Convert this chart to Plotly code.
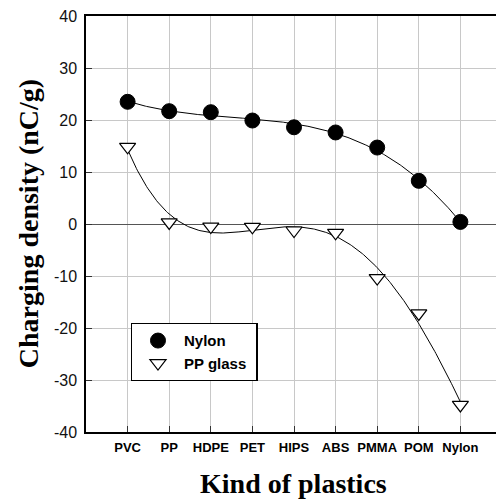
import numpy as np
import plotly.graph_objects as go

categories = ["PVC", "PP", "HDPE", "PET", "HIPS", "ABS", "PMMA", "POM", "Nylon"]
nylon_vals = [23.5, 21.7, 21.5, 19.9, 18.6, 17.6, 14.7, 8.3, 0.4]
ppglass_vals = [14.85, 0.3, -0.5, -0.55, -1.25, -1.7, -10.4, -17.2, -34.8]
y_ticks = [-40, -30, -20, -10, 0, 10, 20, 30, 40]
y_ticktext = [str(v) for v in y_ticks]

x = np.arange(1, len(categories) + 1, dtype=float)
xs = np.linspace(1, len(categories), 300)

# polynomial regression curves fitted to the data
fit_nylon = np.polyval(np.polyfit(x, nylon_vals, 3), xs)
fit_pp = np.polyval(np.polyfit(x, ppglass_vals, 4), xs)

fig = go.Figure()
fig.add_trace(go.Scatter(x=xs, y=fit_pp, mode="lines",
                         line=dict(color="black", width=1), showlegend=False, hoverinfo="skip"))
fig.add_trace(go.Scatter(x=xs, y=fit_nylon, mode="lines",
                         line=dict(color="black", width=1), showlegend=False, hoverinfo="skip"))

fig.add_trace(go.Scatter(x=x, y=nylon_vals, mode="markers", name="Nylon", legendgroup="a",
                         marker=dict(symbol="circle", size=15, color="black",
                                     line=dict(color="black", width=1))))
fig.add_trace(go.Scatter(x=x, y=ppglass_vals, mode="markers", name="PP glass\u00a0", legendgroup="b",
                         marker=dict(symbol="triangle-down", size=14, color="white",
                                     line=dict(color="black", width=1.2))))

fig.update_layout(
    width=496, height=499,
    margin=dict(l=86, r=0, t=16, b=67),
    paper_bgcolor="white", plot_bgcolor="white",
    showlegend=True,
    legend=dict(x=0.109, y=0.262, xanchor="left", yanchor="top",
                bgcolor="white", bordercolor="black", borderwidth=1.3,
                font=dict(family="Liberation Sans", size=15, color="black", weight="bold"),
                itemwidth=42, tracegroupgap=0, traceorder="grouped"),
    xaxis=dict(range=[0, 9.856], tickmode="array", tickvals=list(x), ticktext=categories,
               showgrid=True, gridcolor="#c8c8c8", gridwidth=1,
               showline=True, linecolor="black", linewidth=1.5, mirror=True,
               ticks="inside", ticklen=6, tickcolor="#333", tickwidth=1,
               ticklabelstandoff=3,
               tickfont=dict(family="Liberation Sans", size=13, color="black", weight="bold"),
               zeroline=False),
    yaxis=dict(range=[-40, 40], tickmode="array", tickvals=y_ticks, ticktext=y_ticktext,
               showgrid=True, gridcolor="#c8c8c8", gridwidth=1,
               showline=True, linecolor="black", linewidth=1.5, mirror=False,
               ticks="inside", ticklen=6, tickcolor="#333", tickwidth=1,
               ticklabelstandoff=4,
               tickfont=dict(family="Liberation Sans", size=16, color="#111"),
               zeroline=True, zerolinecolor="#555", zerolinewidth=1.3),
    annotations=[
        dict(text="Kind of plastics", xref="paper", yref="paper", x=0.507, y=-0.123,
             yanchor="middle", xanchor="center", showarrow=False,
             font=dict(family="Liberation Serif", size=28, color="black", weight="bold")),
        dict(text="Charging density (nC/g)", xref="paper", yref="paper", x=-0.141, y=0.5,
             textangle=-90, xanchor="center", yanchor="middle", showarrow=False,
             font=dict(family="Liberation Serif", size=28, color="black", weight="bold")),
    ],
)
fig.write_html("out.html", config={"displayModeBar": False},
               post_script="document.body.style.margin='0';document.body.style.overflow='hidden';")
